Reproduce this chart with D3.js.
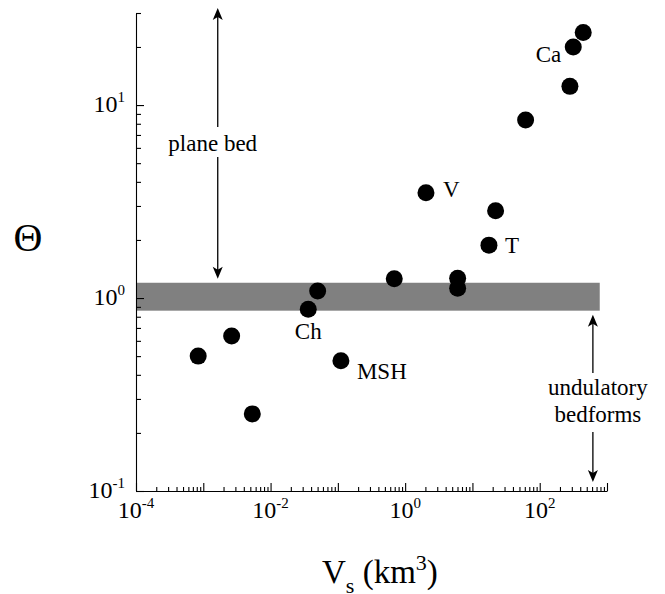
<!DOCTYPE html>
<html>
<head>
<meta charset="utf-8">
<script src="https://cdn.jsdelivr.net/npm/d3@7"></script>
<style>
body{margin:0;background:#fff}
</style>
</head>
<body>
<svg id="chart" width="665" height="594"></svg>
<script>
// deposit volume (km^3) and Theta for each flow
var vol   = [8.4e-4, 2.64e-3, 5.35e-3, 0.0363, 0.0501, 0.111, 0.689, 6.03, 6.03, 2.04, 17.6, 22.1, 61.7, 281, 315, 443]
var theta = [0.50, 0.636, 0.251, 0.875, 1.087, 0.473, 1.259, 1.265, 1.123, 3.51, 1.88, 2.83, 8.36, 12.5, 20.0, 23.8]
var names = ["", "", "", "Ch", "", "MSH", "", "", "", "V", "T", "", "", "", "Ca", ""]

var xTicks = [1e-4, 1e-2, 1, 1e2]
var xTickExp = ["-4", "-2", "0", "2"]
var yTicks = [0.1, 1, 10]
var yTickExp = ["-1", "0", "1"]

var band = [0.86, 1.2]      // grey transition band in Theta
var bandEnd = 780           // band reaches to this volume

const FONT = "'Liberation Serif', 'Times New Roman', Times, serif"

const svg = d3.select("#chart")

var x = d3.scaleLog().domain([1e-4, 1e3]).range([136, 607])
var y = d3.scaleLog().domain([0.1, 30]).range([491, 13])

// grey band
svg.append("rect")
    .attr("x", x(1e-4))
    .attr("y", y(band[1]))
    .attr("width", x(bandEnd) - x(1e-4))
    .attr("height", y(band[0]) - y(band[1]))
    .attr("fill", "#808080")

// minor tick values
var xMinor = []
for (var d = -4; d < 3; d++) for (var k = 2; k < 10; k++) xMinor.push(k * Math.pow(10, d))
var yMinor = []
for (var d = -1; d < 2; d++) for (var k = 2; k < 10; k++) {
    var v = k * Math.pow(10, d)
    if (v <= 30) yMinor.push(v)
}

var xAxis = svg.append("g").attr("transform", "translate(0," + y(0.1) + ")")
xAxis.call(d3.axisBottom(x).tickValues([1e-4,1e-3,1e-2,1e-1,1,10,100,1000]).tickSizeInner(-8).tickSizeOuter(0).tickFormat(""))
xAxis.append("g").call(d3.axisBottom(x).tickValues(xMinor).tickSizeInner(-4).tickSizeOuter(0).tickFormat(""))
    .select(".domain").remove()

var yAxis = svg.append("g").attr("transform", "translate(" + x(1e-4) + ",0)")
yAxis.call(d3.axisLeft(y).tickValues(yTicks).tickSizeInner(-8).tickSizeOuter(0).tickFormat(""))
yAxis.append("g").call(d3.axisLeft(y).tickValues(yMinor).tickSizeInner(-5).tickSizeOuter(0).tickFormat(""))
    .select(".domain").remove()

svg.selectAll(".domain, .tick line").attr("stroke", "#000").attr("stroke-width", 1.1)

function addText(px, py, anchor, size){
    return svg.append("text")
        .attr("x", px).attr("y", py)
        .attr("text-anchor", anchor)
        .attr("font-family", FONT)
        .attr("font-size", size)
        .attr("fill", "#000")
}

// tick labels
xTicks.forEach(function(t, i){
    var tx = addText(x(t), 518, "middle", 24)
    tx.append("tspan").text("10")
    tx.append("tspan").attr("dy", -10).attr("font-size", 15).text(xTickExp[i])
})
yTicks.forEach(function(t, i){
    var ty = addText(125, y(t) + 7, "end", 24)
    ty.append("tspan").text("10")
    ty.append("tspan").attr("dy", -10).attr("font-size", 15).text(yTickExp[i])
})

// points
var pts = vol.map(function(v, i){ return {v: v, t: theta[i], name: names[i]} })
svg.selectAll("circle.pt")
    .data(pts)
    .enter()
    .append("circle")
    .attr("class", "pt")
    .attr("cx", d => x(d.v))
    .attr("cy", d => y(d.t))
    .attr("r", 8.5)
    .attr("fill", "#000")

// point labels
var labelPos = {
    "Ch":  {dx: 0,   dy: 30, anchor: "middle"},
    "MSH": {dx: 16,  dy: 18, anchor: "start"},
    "V":   {dx: 17,  dy: 4.5, anchor: "start"},
    "T":   {dx: 16,  dy: 8,  anchor: "start"},
    "Ca":  {dx: -12, dy: 15, anchor: "end"}
}
pts.filter(d => d.name != "").forEach(function(d){
    var p = labelPos[d.name]
    addText(x(d.v) + p.dx, y(d.t) + p.dy, p.anchor, 23).text(d.name)
})

// double arrows with text in the middle
function arrowHead(px, py, up){
    var s = up ? 1 : -1
    svg.append("path")
        .attr("d", "M" + px + "," + py + " L" + (px - 5) + "," + (py + s * 12) + " L" + px + "," + (py + s * 9) + " L" + (px + 5) + "," + (py + s * 12) + " Z")
        .attr("fill", "#000")
}
function vArrow(px, yTop, yBot, gapTop, gapBot){
    svg.append("line").attr("x1", px).attr("x2", px).attr("y1", yTop + 6).attr("y2", gapTop)
        .attr("stroke", "#000").attr("stroke-width", 1.3)
    svg.append("line").attr("x1", px).attr("x2", px).attr("y1", gapBot).attr("y2", yBot - 6)
        .attr("stroke", "#000").attr("stroke-width", 1.3)
    arrowHead(px, yTop, true)
    arrowHead(px, yBot, false)
}

var planeX = 1.64e-3
vArrow(x(planeX), 8, y(band[1]) - 4, 127, 157)
addText(x(planeX) - 5, 151, "middle", 23).text("plane bed")

var undX = 617
vArrow(x(undX), y(band[0]) + 4, y(0.1) - 9, 373, 432)
addText(x(undX) + 5, 395, "middle", 23).text("undulatory")
addText(x(undX) + 5, 422, "middle", 23).text("bedforms")

// axis titles
addText(28, 251, "middle", 40).text("Θ")

var xt = addText(322, 583, "start", 33)
xt.append("tspan").text("V")
xt.append("tspan").attr("dy", 10).attr("font-size", 22).text("s")
xt.append("tspan").attr("dy", -10).text(" (km")
xt.append("tspan").attr("dy", -13).attr("font-size", 22).text("3")
xt.append("tspan").attr("dy", 13).text(")")
</script>
</body>
</html>
